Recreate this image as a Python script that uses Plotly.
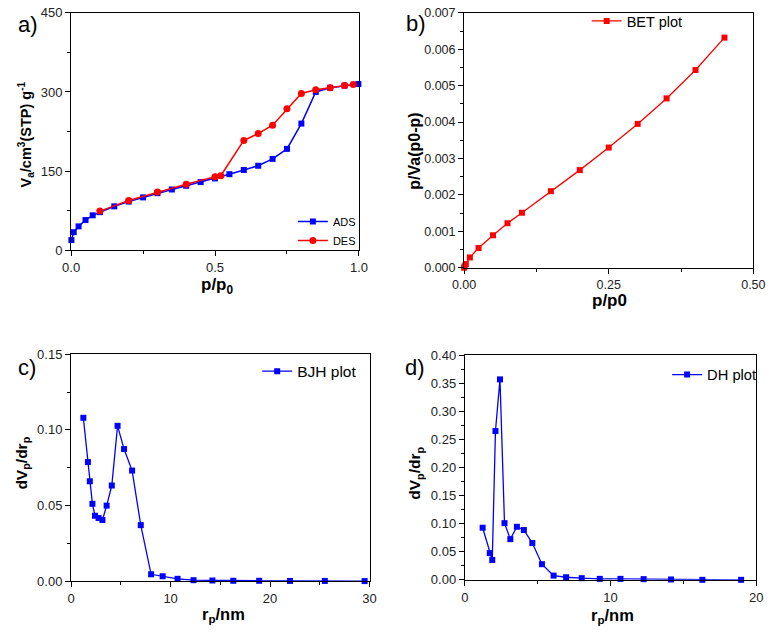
import plotly.graph_objects as go

W, H = 777, 634

# ---------------- data ----------------
# a) isotherm
ads_x = [0.001, 0.009, 0.026, 0.05, 0.075, 0.1, 0.15, 0.2, 0.25, 0.3, 0.35, 0.4, 0.45, 0.5,
         0.55, 0.6, 0.65, 0.7, 0.75, 0.8, 0.85, 0.9, 0.95, 0.998]
ads_y = [19, 34, 45, 57, 66, 72, 83, 92, 100, 108, 115, 122, 129, 136,
         144, 152, 160, 173, 192, 240, 300, 308, 312, 315]
des_x = [0.98, 0.95, 0.9, 0.85, 0.8, 0.75, 0.7, 0.65, 0.6, 0.52, 0.5, 0.4, 0.3, 0.2, 0.1]
des_y = [314, 312, 308, 304, 297, 268, 237, 221, 208, 141, 139, 125, 110, 94, 74]

# b) BET plot
bet_x = [0.0, 0.001, 0.003, 0.01, 0.025, 0.05, 0.075, 0.1, 0.15, 0.2, 0.25, 0.3, 0.35, 0.4, 0.45]
bet_y = [0.0, 0.00004, 0.0001, 0.00028, 0.00054, 0.00089, 0.00122, 0.00151, 0.0021, 0.00268,
         0.0033, 0.00395, 0.00465, 0.00543, 0.00632]

# c) BJH plot
bjh_x = [1.23, 1.69, 1.88, 2.14, 2.4, 2.76, 3.15, 3.57, 4.09, 4.67, 5.32, 6.13, 7.0, 8.04,
         9.2, 10.7, 12.3, 14.2, 16.3, 18.9, 22.0, 25.5, 29.5]
bjh_y = [0.108, 0.0787, 0.066, 0.0511, 0.0432, 0.0417, 0.0404, 0.0499, 0.0632, 0.1027, 0.0873,
         0.0731, 0.037, 0.0045, 0.0032, 0.0015, 0.0006, 0.0004, 0.0002, 0.0002, 0.0001, 0.0001, 0.0]

# d) DH plot
dh_x = [1.22, 1.71, 1.88, 2.1, 2.41, 2.72, 3.12, 3.57, 4.05, 4.63, 5.29, 6.09, 6.95, 8.02,
        9.26, 10.68, 12.27, 14.15, 16.3, 18.96]
dh_y = [0.0928, 0.0475, 0.0354, 0.265, 0.357, 0.1009, 0.0725, 0.0945, 0.0887, 0.0655, 0.0278,
        0.0075, 0.0046, 0.0029, 0.0017, 0.0017, 0.0012, 0.0006, 0.0, 0.0]

BLUE = "#0000FF"
RED = "#FF0000"
FONT = "Liberation Sans, Arial, sans-serif"


def px_x(p):
    return p / W


def px_y(p):
    return 1 - p / H


fig = go.Figure()

fig.add_trace(go.Scatter(x=ads_x, y=ads_y, name="ADS", mode="lines+markers",
                         line=dict(color=BLUE, width=1.5),
                         marker=dict(symbol="square", size=6, color=BLUE),
                         xaxis="x", yaxis="y", legend="legend", cliponaxis=False))
fig.add_trace(go.Scatter(x=des_x, y=des_y, name="DES", mode="lines+markers",
                         line=dict(color=RED, width=1.5),
                         marker=dict(symbol="circle", size=7, color=RED),
                         xaxis="x", yaxis="y", legend="legend", cliponaxis=False))
fig.add_trace(go.Scatter(x=bet_x, y=bet_y, name="BET plot", mode="lines+markers",
                         line=dict(color=RED, width=1.3),
                         marker=dict(symbol="square", size=6, color=RED),
                         xaxis="x2", yaxis="y2", legend="legend2", cliponaxis=False))
fig.add_trace(go.Scatter(x=bjh_x, y=bjh_y, name="BJH plot", mode="lines+markers",
                         line=dict(color=BLUE, width=1.3),
                         marker=dict(symbol="square", size=6, color=BLUE),
                         xaxis="x3", yaxis="y3", legend="legend3", cliponaxis=False))
fig.add_trace(go.Scatter(x=dh_x, y=dh_y, name="DH plot", mode="lines+markers",
                         line=dict(color=BLUE, width=1.3),
                         marker=dict(symbol="square", size=6, color=BLUE),
                         xaxis="x4", yaxis="y4", legend="legend4", cliponaxis=False))


def axis(domain, rng, dtick, mdtick, anchor, fmt, size=13):
    return dict(domain=domain, range=rng, dtick=dtick, tick0=0, anchor=anchor,
                tickformat=fmt, showline=True, linecolor="black", linewidth=1.2,
                mirror=True, ticks="outside", ticklen=5, tickwidth=1, tickcolor="black",
                showgrid=False, zeroline=False,
                minor=dict(ticks="outside", ticklen=3, tickwidth=1, tickcolor="black",
                           dtick=mdtick, tick0=0, showgrid=False),
                tickfont=dict(family=FONT, size=size, color="#222"))


# domains (pixel-based)
a_x = [px_x(61), px_x(358)]
a_y = [px_y(249), px_y(6)]
b_x = [px_x(466.5), px_x(765)]
b_y = [px_y(267), px_y(6)]
c_x = [px_x(61), px_x(369)]
c_y = [px_y(588), px_y(355.7)]
d_x = [px_x(467.3), px_x(768)]
d_y = [px_y(586.7), px_y(356.7)]

leg_common = dict(bgcolor="rgba(0,0,0,0)", borderwidth=0, xref="paper", yref="paper",
                  tracegroupgap=0)

fig.update_layout(
    width=W, height=H, margin=dict(l=0, r=0, t=0, b=0),
    paper_bgcolor="white", plot_bgcolor="white",
    font=dict(family=FONT, color="black"),
    xaxis=axis(a_x, [0, 1.0], 0.5, 0.25, "y", ".1f"),
    yaxis=axis(a_y, [0, 450], 150, 75, "x", "d"),
    xaxis2=axis(b_x, [0, 0.5], 0.25, 0.125, "y2", ".2f", 12.5),
    yaxis2=axis(b_y, [0, 0.007], 0.001, 0.0005, "x2", ".3f", 12.5),
    xaxis3=axis(c_x, [0, 30], 10, 5, "y3", "d"),
    yaxis3=axis(c_y, [0, 0.15], 0.05, 0.025, "x3", ".2f"),
    xaxis4=axis(d_x, [0, 20], 10, 5, "y4", "d"),
    yaxis4=axis(d_y, [0, 0.40], 0.05, 0.025, "x4", ".2f"),
    legend=dict(x=px_x(360), y=px_y(254), xanchor="right", yanchor="bottom",
                font=dict(family=FONT, size=11), **leg_common),
    legend2=dict(x=px_x(593), y=px_y(-2), xanchor="left", yanchor="top",
                 font=dict(family=FONT, size=14.5), **leg_common),
    legend3=dict(x=px_x(253), y=px_y(356), xanchor="left", yanchor="top",
                 font=dict(family=FONT, size=15.5), **leg_common),
    legend4=dict(x=px_x(676), y=px_y(360), xanchor="left", yanchor="top",
                 font=dict(family=FONT, size=14.7), **leg_common),
    showlegend=True,
)


def ann(text, xp, yp, size, angle=0, bold=True):
    t = f"<b>{text}</b>" if bold else text
    fig.add_annotation(text=t, x=px_x(xp), y=px_y(yp), xref="paper", yref="paper",
                       showarrow=False, textangle=angle, xanchor="center", yanchor="middle",
                       font=dict(family=FONT, size=size, color="black"))


# axis titles
ann("V<sub>a</sub>/cm<sup>3</sup>(STP) g<sup>-1</sup>", 14, 131, 14.5, -90)
ann("p/p<sub>0</sub>", 212, 286, 17)
ann("p/Va(p0-p)", 415, 148, 16, -90)
ann("p/p0", 617, 301, 17)
ann("dV<sub>p</sub>/dr<sub>p</sub>", 11, 467, 15.5, -90)
ann("r<sub>p</sub>/nm", 218, 623, 16.5)
ann("dV<sub>p</sub>/dr<sub>p</sub>", 417, 478, 15.5, -90)
ann("r<sub>p</sub>/nm", 620, 624, 16.5)

# panel labels
ann("a)", 16, 18, 22, bold=False)
ann("b)", 417, 17, 22, bold=False)
ann("c)", 15, 369, 22, bold=False)
ann("d)", 416, 369, 22, bold=False)

fig.write_html("out.html")
